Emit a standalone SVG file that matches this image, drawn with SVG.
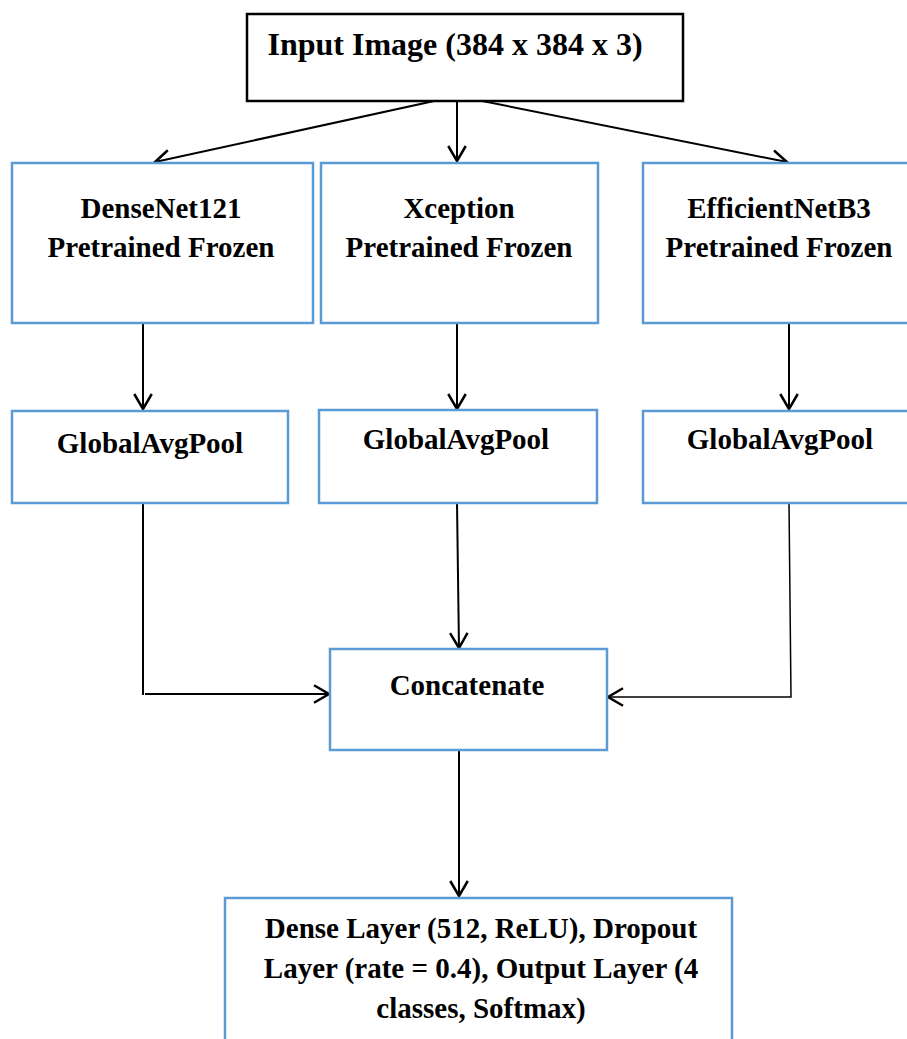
<svg xmlns="http://www.w3.org/2000/svg" width="907" height="1039" viewBox="0 0 907 1039">
<style>
.box{fill:#fff;stroke:#5b9bd5;stroke-width:2.5}
.inbox{fill:#fff;stroke:#000;stroke-width:2.5}
.t{font-family:"Liberation Serif","Times New Roman",serif;font-weight:bold;font-size:29px;fill:#000;text-anchor:middle}
.c{fill:none;stroke:#000;stroke-width:2}
</style>
<defs>
<marker id="ah" markerUnits="userSpaceOnUse" markerWidth="20" markerHeight="20" refX="13" refY="8" orient="auto" viewBox="0 0 16 16">
<path d="M1,1 L13,8 L1,15" fill="none" stroke="#000" stroke-width="2"/>
</marker>
</defs>
<g id="connectors">
<line class="c" x1="457" y1="96" x2="155" y2="162" marker-end="url(#ah)"/>
<line class="c" x1="457" y1="96" x2="457" y2="161" marker-end="url(#ah)"/>
<line class="c" x1="457" y1="96" x2="787" y2="162" marker-end="url(#ah)"/>
<line class="c" x1="143" y1="323" x2="143" y2="409" marker-end="url(#ah)"/>
<line class="c" x1="457" y1="323" x2="457" y2="409" marker-end="url(#ah)"/>
<line class="c" x1="789" y1="323" x2="789" y2="409" marker-end="url(#ah)"/>
<polyline class="c" points="143,503 143,695"/>
<line class="c" x1="145" y1="694" x2="329" y2="694" marker-end="url(#ah)"/>
<line class="c" x1="457" y1="503" x2="459" y2="648" marker-end="url(#ah)"/>
<polyline class="c" style="stroke-width:1.5" points="789,503 791,697 608,697" marker-end="url(#ah)"/>
<line class="c" x1="459" y1="751" x2="459" y2="896" marker-end="url(#ah)"/>
</g>
<g id="input">
<rect class="inbox" x="247" y="14" width="436" height="87"/>
<text class="t" x="455" y="55" style="font-size:32px">Input Image (384 x 384 x 3)</text>
</g>
<g id="densenet">
<rect class="box" x="12" y="163" width="301" height="160"/>
<text class="t" x="161" y="218">DenseNet121</text>
<text class="t" x="161" y="257">Pretrained Frozen</text>
</g>
<g id="xception">
<rect class="box" x="321" y="163" width="277" height="160"/>
<text class="t" x="459" y="218">Xception</text>
<text class="t" x="459" y="257">Pretrained Frozen</text>
</g>
<g id="efficientnet">
<rect class="box" x="643" y="163" width="274" height="160"/>
<text class="t" x="779" y="218">EfficientNetB3</text>
<text class="t" x="779" y="257">Pretrained Frozen</text>
</g>
<g id="pool1">
<rect class="box" x="12" y="411" width="276" height="92"/>
<text class="t" x="150" y="453">GlobalAvgPool</text>
</g>
<g id="pool2">
<rect class="box" x="319" y="410" width="278" height="93"/>
<text class="t" x="456" y="449">GlobalAvgPool</text>
</g>
<g id="pool3">
<rect class="box" x="643" y="411" width="274" height="92"/>
<text class="t" x="780" y="449">GlobalAvgPool</text>
</g>
<g id="concat">
<rect class="box" x="330" y="649" width="277" height="101"/>
<text class="t" x="467" y="695">Concatenate</text>
</g>
<g id="dense">
<rect class="box" x="225" y="898" width="507" height="150"/>
<text class="t" x="481" y="938">Dense Layer (512, ReLU), Dropout</text>
<text class="t" x="481" y="978">Layer (rate = 0.4), Output Layer (4</text>
<text class="t" x="481" y="1018">classes, Softmax)</text>
</g>
</svg>
